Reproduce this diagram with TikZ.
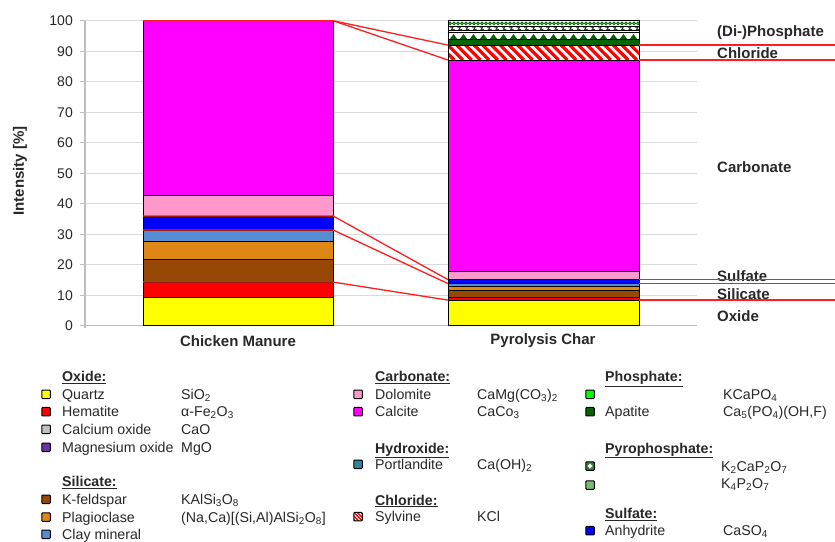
\documentclass[tikz,border=0pt]{standalone}
\usepackage{fontspec}
\setmainfont{Liberation Sans}
\definecolor{cQuartz}{RGB}{255,255,0}
\definecolor{cHem}{RGB}{255,0,0}
\definecolor{cCaO}{RGB}{192,192,192}
\definecolor{cMgO}{RGB}{112,48,160}
\definecolor{cKfs}{RGB}{151,72,7}
\definecolor{cPlag}{RGB}{222,135,20}
\definecolor{cClay}{RGB}{85,142,213}
\definecolor{cDol}{RGB}{255,153,204}
\definecolor{cCal}{RGB}{255,0,255}
\definecolor{cPort}{RGB}{49,133,156}
\definecolor{cKCaPO}{RGB}{0,255,0}
\definecolor{cApa}{RGB}{0,100,0}
\definecolor{cKPO}{RGB}{119,187,119}
\definecolor{cAnh}{RGB}{0,0,255}
\definecolor{gridc}{RGB}{217,217,217}
\definecolor{axisc}{RGB}{190,190,190}
\definecolor{linkc}{RGB}{255,30,30}
\definecolor{txtc}{RGB}{40,40,40}
\tikzset{
  segline/.style={draw=black, line width=0.6pt},
  link/.style={draw=linkc, line width=1.3pt},
  ticklab/.style={anchor=east, inner sep=0pt, text=txtc, font=\fontsize{14}{16}\selectfont},
  catlab/.style={anchor=west, inner sep=0pt, text=txtc, font=\bfseries\fontsize{15}{17}\selectfont},
  barlab/.style={inner sep=0pt, text=txtc, font=\bfseries\fontsize{15}{17}\selectfont},
  lgbox/.style={draw=black, line width=1pt, minimum size=8.5pt, inner sep=0pt, rounded corners=0.8pt},
  lgtext/.style={anchor=base west, inner sep=0pt, text=txtc, font=\fontsize{14.2}{16}\selectfont},
  lghead/.style={anchor=base west, inner sep=0pt, text=txtc, font=\bfseries\fontsize{14.2}{16}\selectfont},
}
\newcommand{\legrow}[8]{%
  \node[lgbox, fill=#6] (#1b) at (#2,-#5) {};
  \node[lgtext] (#1t) at (#3,-#5-5) {#7};
  \node[lgtext] (#1f) at (#4,-#5-5) {#8};
}
\begin{document}
\begin{tikzpicture}[x=1pt,y=1pt]
\useasboundingbox (0,0) rectangle (835,-541);
\fill[white] (0,0) rectangle (835,-541);

% category labels on the right (drawn under the connector lines)
\node[catlab] (lPhos) at (717,-33) {(Di-)Phosphate};
\node[catlab] (lChl) at (717,-53) {Chloride};
\node[catlab] (lCarb) at (717,-167) {Carbonate};
\node[catlab] (lSulf) at (717,-276) {Sulfate};
\node[catlab] (lSil) at (717,-294) {Silicate};
\node[catlab] (lOx) at (717,-316) {Oxide};

\begin{scope}[yshift=-325.7pt, y=3.05pt]
  % grid and axes
  \foreach \v in {10,20,...,100} \draw[gridc, line width=1.3pt] (85,\v) -- (697,\v);
  \draw[axisc, line width=1.3pt] (85,-0.8) -- (85,100);
  \draw[axisc, line width=1.3pt] (80,0) -- (697,0);
  \foreach \v in {10,20,...,100} \draw[axisc, line width=1.3pt] (80,\v) -- (85,\v);
  \foreach \v in {0,10,...,100} \node[ticklab] (tick\v) at (73,\v) {\v};

  % Chicken manure bar
  \foreach \a/\b/\c in {0/9.2/cQuartz, 9.2/14.3/cHem, 14.3/21.9/cKfs, 21.9/27.7/cPlag,
      27.7/31.4/cClay, 31.4/36/cAnh, 36/42.8/cDol, 42.8/100/cCal}
    \draw[segline, fill=\c] (143,\a) rectangle (333,\b);

  % connector coordinates
  \coordinate (cmL100) at (143,100); \coordinate (cmR100) at (333,100);
  \coordinate (cmL36) at (143,36);   \coordinate (cmR36) at (333,36);
  \coordinate (cmL31) at (143,31.4); \coordinate (cmR31) at (333,31.4);
  \coordinate (cmL14) at (143,14.3); \coordinate (cmR14) at (333,14.3);
  \coordinate (pcL92) at (448,92);   \coordinate (pcR92) at (639,92);   \coordinate (end92) at (835,92);
  \coordinate (pcL87) at (448,87.1); \coordinate (pcR87) at (639,87.1); \coordinate (end87) at (835,87.1);
  \coordinate (pcL15) at (448,15.1); \coordinate (pcR15) at (639,15.1); \coordinate (end15) at (835,15.1);
  \coordinate (pcL13) at (448,13.8); \coordinate (pcR13) at (639,13.8); \coordinate (end13) at (835,13.8);
  \coordinate (pcL8) at (448,8.4);   \coordinate (pcR8) at (639,8.4);   \coordinate (end8) at (835,8.4);

  \draw[link] (cmL100) -- (cmR100) -- (pcL92);
  \draw[link] (cmR100) -- (pcL87);
  \draw[link] (cmL36) -- (cmR36) -- (pcL15);
  \draw[link] (cmL31) -- (cmR31) -- (pcL13);
  \draw[link] (cmL14) -- (cmR14) -- (pcL8);

  % Pyrolysis char bar
  \foreach \a/\b/\c in {0/8.4/cQuartz, 8.4/9.2/cHem, 9.2/11.7/cKfs, 11.7/13.0/cPlag,
      13.0/13.8/cClay, 13.8/15.1/cAnh, 15.1/17.8/cDol, 17.8/87.1/cCal}
    \draw[segline, fill=\c] (448,\a) rectangle (639,\b);
  % chloride hatch
  \fill[white] (448,87.1) rectangle (639,92);
  \begin{scope}
    \clip (448,87.1) rectangle (639,92);
    \foreach \i in {-3,...,23} \draw[red, line width=3.2pt] (448+\i*8.7,92) -- (463+\i*8.7,87.1);
  \end{scope}
  \draw[segline] (448,87.1) rectangle (639,92);
  % apatite
  \draw[segline, fill=cApa] (448,92) rectangle (639,93.9);
  % triangles band
  \fill[white] (448,93.9) rectangle (639,96.2);
  \begin{scope}
    \clip (448,93.9) rectangle (639,96.2);
    \foreach \i in {0,...,19} \fill[cApa] (449.5+\i*10,93.9) -- (453.5+\i*10,95.6) -- (457.5+\i*10,93.9) -- cycle;
  \end{scope}
  \draw[segline] (448,93.9) rectangle (639,96.2);
  \draw[segline, fill=white] (448,96.2) rectangle (639,96.8);
  % squiggle band
  \fill[white] (448,96.8) rectangle (639,98.2);
  \begin{scope}
    \clip (448,96.8) rectangle (639,98.2);
    \foreach \i in {0,...,25} \draw[cApa, line width=1.1pt] (450+\i*7.4,97.95) -- (453+\i*7.4,97.95) -- (451.5+\i*7.4,97.05) -- (454.5+\i*7.4,97.05);
  \end{scope}
  \draw[segline] (448,96.8) rectangle (639,98.2);
  % check band
  \fill[white] (448,98.2) rectangle (639,100);
  \begin{scope}
    \clip (448,98.2) rectangle (639,100);
    \foreach \i in {0,...,47} \draw[cApa, line width=0.9pt] (450+\i*4,99.1) circle [radius=1.4pt];
  \end{scope}
  \draw[segline] (448,98.2) rectangle (639,100);

  \draw[link] (pcR92) -- (end92);
  \draw[link] (pcR87) -- (end87);
  \draw[link] (pcR15) -- (end15);
  \draw[link] (pcR13) -- (end13);
  \draw[link] (pcR8) -- (end8);
\end{scope}

% axis title and bar labels
\node[barlab, rotate=90] (ytitle) at (20,-171) {Intensity [\%]};
\node[barlab] (cmlab) at (238,-341) {Chicken Manure};
\node[barlab] (pclab) at (543,-341) {Pyrolysis Char};

% legend column 1
\node[lghead] (hOx) at (62,-381.7) {\underline{Oxide:}};
\legrow{qz}{46}{62}{181}{394.3}{cQuartz}{Quartz}{SiO\textsubscript{2}}
\legrow{hm}{46}{62}{181}{411.7}{cHem}{Hematite}{α-Fe\textsubscript{2}O\textsubscript{3}}
\legrow{co}{46}{62}{181}{429.3}{cCaO}{Calcium oxide}{CaO}
\legrow{mo}{46}{62}{181}{447.3}{cMgO}{Magnesium oxide}{MgO}
\node[lghead] (hSil) at (62,-486.7) {\underline{Silicate:}};
\legrow{kf}{46}{62}{181}{499.3}{cKfs}{K-feldspar}{KAlSi\textsubscript{3}O\textsubscript{8}}
\legrow{pl}{46}{62}{181}{517}{cPlag}{Plagioclase}{(Na,Ca)[(Si,Al)AlSi\textsubscript{2}O\textsubscript{8}]}
\legrow{cl}{46}{62}{181}{534.3}{cClay}{Clay mineral}{}

% legend column 2
\node[lghead] (hCarb) at (375,-381.7) {\underline{Carbonate:}};
\legrow{dl}{358}{375}{477}{394.3}{cDol}{Dolomite}{CaMg(CO\textsubscript{3})\textsubscript{2}}
\legrow{ca}{358}{375}{477}{411.7}{cCal}{Calcite}{CaCo\textsubscript{3}}
\node[lghead] (hHyd) at (375,-453.3) {\underline{Hydroxide:}};
\legrow{pt}{358}{375}{477}{464.3}{cPort}{Portlandite}{Ca(OH)\textsubscript{2}}
\node[lghead] (hChl) at (375,-505) {\underline{Chloride:}};
\node[lgbox, fill=white, path picture={
  \foreach \i in {-3,...,3} \draw[red, line width=1.4pt] ([xshift=\i*3.6pt]path picture bounding box.north west) -- ++(10pt,-10pt);
}] (syb) at (358,-516.7) {};
\node[lgtext] (syt) at (375,-521.7) {Sylvine};
\node[lgtext] (syf) at (477,-521.7) {KCl};

% legend column 3
\node[lghead] (hPhos) at (605,-381.7) {\underline{Phosphate:}};
\legrow{kc}{590}{605}{723}{394.3}{cKCaPO}{}{KCaPO\textsubscript{4}}
\legrow{ap}{590}{605}{723}{411.7}{cApa}{Apatite}{Ca\textsubscript{5}(PO\textsubscript{4})(OH,F)}
\node[lghead] (hPyro) at (605,-453.3) {\underline{Pyrophosphate:}};
\node[lgbox, fill=cApa!80, path picture={
  \fill[white] ([xshift=-0.9pt,yshift=-2.5pt]path picture bounding box.center) rectangle ([xshift=0.9pt,yshift=2.5pt]path picture bounding box.center);
  \fill[white] ([xshift=-2.5pt,yshift=-0.9pt]path picture bounding box.center) rectangle ([xshift=2.5pt,yshift=0.9pt]path picture bounding box.center);
}] (k2b) at (590,-466) {};
\node[lgtext] (k2f) at (721,-471) {K\textsubscript{2}CaP\textsubscript{2}O\textsubscript{7}};
\node[lgbox, fill=cKPO] (k4b) at (590,-485) {};
\node[lgtext] (k4f) at (721,-488.3) {K\textsubscript{4}P\textsubscript{2}O\textsubscript{7}};
\node[lghead] (hSulf) at (605,-518.3) {\underline{Sulfate:}};
\legrow{an}{590}{605}{723}{530.7}{cAnh}{Anhydrite}{CaSO\textsubscript{4}}
\end{tikzpicture}
\end{document}
